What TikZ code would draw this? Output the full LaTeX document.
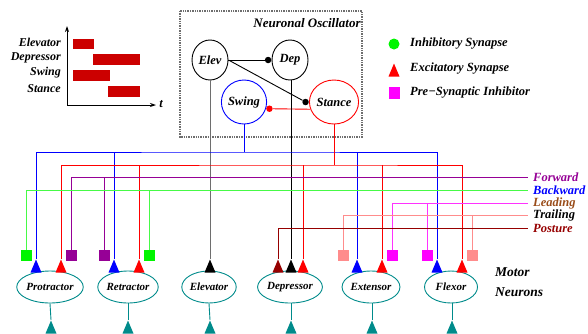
\documentclass[tikz,border=0pt]{standalone}
\usepackage{fontspec}
\setmainfont{Liberation Serif}
\usetikzlibrary{shapes.geometric,arrows.meta}

\definecolor{barred}{RGB}{204,0,0}
\definecolor{tealc}{RGB}{0,139,139}
\definecolor{fwdc}{RGB}{150,0,150}
\definecolor{bwdc}{RGB}{70,250,70}
\definecolor{greenc}{RGB}{0,245,0}
\definecolor{magc}{RGB}{255,0,255}
\definecolor{leadc}{RGB}{255,50,255}
\definecolor{trailc}{RGB}{255,140,140}
\definecolor{postc}{RGB}{150,0,0}
\definecolor{leadtxt}{RGB}{153,76,25}
\definecolor{oscgray}{RGB}{110,110,110}

\begin{document}
\begin{tikzpicture}[x=1pt, y=-1pt,
        every node/.style={font=\fontsize{12.5}{14}\selectfont\bfseries\itshape, inner sep=1pt},
        wire/.style={line width=0.9pt},
        cell/.style={ellipse, draw, line width=0.9pt, minimum width=36pt, minimum height=40pt, inner sep=0pt},
        motor/.style={ellipse, draw=tealc, line width=0.9pt, minimum width=53pt, minimum height=32pt, inner sep=0pt, font=\fontsize{11}{12}\selectfont\bfseries\itshape},
        exc/.style={isosceles triangle, isosceles triangle stretches, shape border rotate=90, minimum width=11pt, minimum height=13pt, inner sep=0pt, anchor=apex},
        inh/.style={rectangle, minimum size=11pt, inner sep=0pt},
        dot/.style={circle, fill, inner sep=0pt, minimum size=6.5pt},
        lbl/.style={anchor=west, inner xsep=5pt, inner ysep=0pt, font=\fontsize{12.5}{13}\selectfont\bfseries\itshape},
        tlbl/.style={anchor=east, font=\fontsize{12}{14}\selectfont\bfseries\itshape},
        bar/.style={fill=barred}
    ]
        \useasboundingbox (0,0) rectangle (588,333);

        % Timing chart
        \draw[wire, -{Stealth[length=6pt,width=4pt]}] (67,105) -- (67,26);
        \draw[wire, -{Stealth[length=6pt,width=4pt]}] (67,105) -- (156,105);
        \node (t) at (161,104) {t};
        \node[tlbl] (telev) at (62,42) {Elevator};
        \node[tlbl] (tdep) at (62,58) {Depressor};
        \node[tlbl] (tswing) at (62,73) {Swing};
        \node[tlbl] (tstance) at (62,89) {Stance};
        \fill[bar] (73,39) rectangle (94,49);
        \fill[bar] (93,54) rectangle (140,65);
        \fill[bar] (73,70) rectangle (110,81);
        \fill[bar] (108,86) rectangle (140,97);

        % Neuronal oscillator
        \draw[oscgray, line width=1.4pt, densely dotted] (180,11) rectangle (362,137);
        \node[font=\fontsize{13}{15}\selectfont\bfseries\itshape] (osc) at (307,23) {Neuronal Oscillator};
        \node[cell] (elev) at (210,60) {Elev};
        \node[cell] (dep) at (290,60) {Dep};
        \node[cell, draw=blue, minimum height=44pt] (swing) at (244,102) {Swing};
        \node[cell, draw=red, minimum height=44pt] (stance) at (334,102) {Stance};
        \node[dot, anchor=east] (ddep) at (dep.west) {};
        \node[dot, anchor=east] (dstance) at (stance.west) {};
        \node[dot, red, anchor=west] (dswing) at (swing.-17) {};
        \draw[wire] (elev.east) -- (ddep);
        \draw[wire] (elev.east) -- (dstance);
        \draw[wire, red] (stance.197) -- (dswing);

        % Legend
        \node[circle, fill=greenc, inner sep=0pt, minimum size=11pt] (kinh) at (394,44) {};
        \node[exc, fill=red] (kexc) at (394,63) {};
        \node[inh, fill=magc, minimum height=12pt] (kpre) at (394,93) {};
        \node[anchor=west] (tinh) at (409,44) {Inhibitory Synapse};
        \node[anchor=west] (texc) at (409,69) {Excitatory Synapse};
        \node[anchor=west] (tpre) at (409,93) {Pre−Synaptic Inhibitor};

        % Motor neurons
        \node[motor, minimum width=49pt] (pro) at (50,287) {Protractor};
        \node[motor] (ret) at (128,287) {Retractor};
        \node[motor] (ele) at (209,287) {Elevator};
        \node[motor] (dpr) at (290,287) {Depressor};
        \node[motor] (ext) at (371,287) {Extensor};
        \node[motor] (flx) at (451,287) {Flexor};
        \node[anchor=west, align=left, font=\fontsize{13.5}{15}\selectfont\bfseries\itshape] (mn) at (494,282) {Motor\\[5pt]Neurons};

        % Outputs
        \node[exc, fill=tealc] (opro) at (51,320) {};
        \node[exc, fill=tealc] (oret) at (128,320) {};
        \node[exc, fill=tealc] (oele) at (210,320) {};
        \node[exc, fill=tealc] (odpr) at (291,320) {};
        \node[exc, fill=tealc] (oext) at (372,320) {};
        \node[exc, fill=tealc] (oflx) at (452,320) {};
        \draw[wire, tealc] (pro.south) -- (opro.apex);
        \draw[wire, tealc] (ret.south) -- (oret.apex);
        \draw[wire, tealc] (ele.south) -- (oele.apex);
        \draw[wire, tealc] (dpr.south -| odpr) -- (odpr.apex);
        \draw[wire, tealc] (ext.south -| oext) -- (oext.apex);
        \draw[wire, tealc] (flx.south -| oflx) -- (oflx.apex);

        % Synapses on motor neurons
        \node[inh, fill=greenc] (pro-bw) at (26,255.5) {};
        \node[exc, fill=blue] (pro-sw) at (36,259) {};
        \node[exc, fill=red] (pro-st) at (61,259) {};
        \node[inh, fill=fwdc] (pro-fw) at (71,255.5) {};
        \node[inh, fill=fwdc] (ret-fw) at (104,255.5) {};
        \node[exc, fill=blue] (ret-sw) at (114,259) {};
        \node[exc, fill=red] (ret-st) at (139,259) {};
        \node[inh, fill=greenc] (ret-bw) at (149,255.5) {};
        \node[exc, fill=black] (ele-el) at (210,259) {};
        \node[exc, fill=postc] (dpr-po) at (278,259) {};
        \node[exc, fill=black] (dpr-dp) at (291,259) {};
        \node[exc, fill=red] (dpr-st) at (303,259) {};
        \node[inh, fill=trailc] (ext-tr) at (343,255.5) {};
        \node[exc, fill=blue] (ext-sw) at (357,259) {};
        \node[exc, fill=red] (ext-st) at (382,259) {};
        \node[inh, fill=magc] (ext-ld) at (392,255.5) {};
        \node[inh, fill=magc] (flx-ld) at (427,255.5) {};
        \node[exc, fill=blue] (flx-sw) at (437,259) {};
        \node[exc, fill=red] (flx-st) at (462,259) {};
        \node[inh, fill=trailc] (flx-tr) at (472,255.5) {};

        % Command labels
        \node[lbl, text=fwdc] (fwd) at (528,177) {Forward};
        \node[lbl, text=blue] (bwd) at (528,190) {Backward};
        \node[lbl, text=leadtxt] (lead) at (528,203) {Leading};
        \node[lbl] (trail) at (528,215) {Trailing};
        \node[lbl, text=postc] (post) at (528,228) {Posture};

        % Oscillator to motor neurons
        \coordinate (bbus) at (244,152);
        \coordinate (rbus) at (334,165);
        \draw[wire, oscgray] (elev.south) -- (ele-el.apex);
        \draw[wire] (dep.south -| dpr-dp) -- (dpr-dp.apex);
        \draw[wire, blue] (swing.south) -- (bbus);
        \draw[wire, blue] (pro-sw.apex) |- (bbus) -| (flx-sw.apex);
        \draw[wire, blue] (ret-sw.apex) -- (ret-sw.apex |- bbus);
        \draw[wire, blue] (ext-sw.apex) -- (ext-sw.apex |- bbus);
        \draw[wire, red] (stance.south) -- (rbus);
        \draw[wire, red] (pro-st.apex) |- (rbus) -| (flx-st.apex);
        \draw[wire, red] (ret-st.apex) -- (ret-st.apex |- rbus);
        \draw[wire, red] (dpr-st.apex) -- (dpr-st.apex |- rbus);
        \draw[wire, red] (ext-st.apex) -- (ext-st.apex |- rbus);

        % Command lines
        \draw[wire, fwdc] (pro-fw.north) |- (fwd.west);
        \draw[wire, fwdc] (ret-fw.north) -- (ret-fw.north |- fwd.west);
        \draw[wire, bwdc] (pro-bw.north) |- (bwd.west);
        \draw[wire, bwdc] (ret-bw.north) -- (ret-bw.north |- bwd.west);
        \draw[wire, leadc] (ext-ld.north) |- (lead.west);
        \draw[wire, leadc] (flx-ld.north) -- (flx-ld.north |- lead.west);
        \draw[wire, trailc] (ext-tr.north) |- (trail.west);
        \draw[wire, trailc] (flx-tr.north) -- (flx-tr.north |- trail.west);
        \draw[wire, postc] (dpr-po.apex) |- (post.west);
    \end{tikzpicture}
\end{document}
